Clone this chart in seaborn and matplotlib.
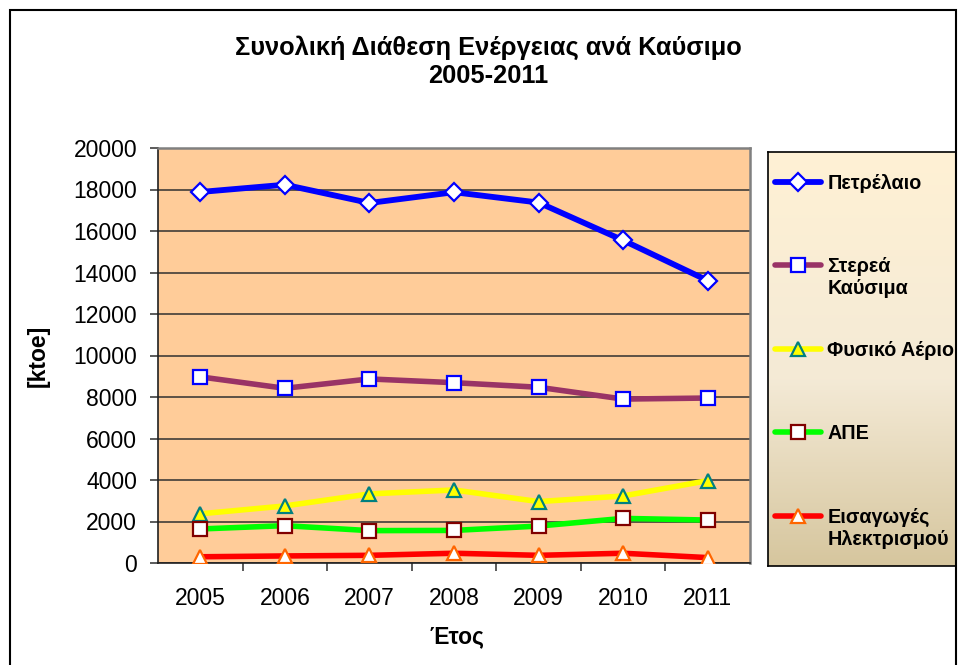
import numpy as np
import pandas as pd
import matplotlib
matplotlib.use("Agg")
import matplotlib.pyplot as plt
import seaborn as sns
from matplotlib.patches import Rectangle
from matplotlib.ticker import FixedLocator

# ---- data ----
years = ["2005", "2006", "2007", "2008", "2009", "2010", "2011"]
oil = [17880, 18230, 17350, 17870, 17370, 15550, 13610]
solid_fuels = [8970, 8420, 8870, 8690, 8470, 7900, 7950]
natural_gas = [2370, 2750, 3330, 3520, 2960, 3230, 3970]
renewables = [1640, 1800, 1560, 1570, 1780, 2150, 2070]
electricity_imports = [300, 340, 370, 470, 370, 470, 260]
series_labels = ["Πετρέλαιο", "Στερεά\nΚαύσιμα", "Φυσικό Αέριο", "ΑΠΕ", "Εισαγωγές\nΗλεκτρισμού"]
y_ticks = [0, 2000, 4000, 6000, 8000, 10000, 12000, 14000, 16000, 18000, 20000]
title = "Συνολική Διάθεση Ενέργειας ανά Καύσιμο\n2005-2011"
x_label = "Έτος"
y_label = "[ktoe]"

sns.set_style("white")
plt.rcParams["font.family"] = ["Liberation Sans", "DejaVu Sans"]
plt.rcParams["text.color"] = "black"
plt.rcParams["axes.labelcolor"] = "black"
plt.rcParams["xtick.color"] = "black"
plt.rcParams["ytick.color"] = "black"

W, H = 958, 665
fig = plt.figure(figsize=(W / 100, H / 100), dpi=100)
fig.patch.set_facecolor("white")

ax = fig.add_axes([158 / W, 1 - 563 / H, (750 - 158) / W, (563 - 148) / H])
ax.set_facecolor("#FFCC99")

values = [oil, solid_fuels, natural_gas, renewables, electricity_imports]
styles = [
    dict(color="#0000FF", marker="D", ms=9, mfc="white", mec="#0000FF", lw=4.2),
    dict(color="#993366", marker="s", ms=9.5, mfc="white", mec="#0000FF", lw=4.0),
    dict(color="#FFFF00", marker="^", ms=10.5, mfc="#FFFF00", mec="#008080", lw=4.0),
    dict(color="#00FF00", marker="s", ms=9.5, mfc="white", mec="#800000", lw=4.0),
    dict(color="#FF0000", marker="^", ms=10.5, mfc="white", mec="#FF6600", lw=4.0),
]
for vals, lab, st in zip(values, series_labels, styles):
    df = pd.DataFrame({"year": years, "value": vals})
    sns.lineplot(data=df, x="year", y="value", ax=ax, color=st["color"],
                 linewidth=st["lw"], marker=st["marker"], markersize=st["ms"],
                 markerfacecolor=st["mfc"], markeredgecolor=st["mec"],
                 markeredgewidth=1.6, label=lab, zorder=3)
if ax.get_legend() is not None:
    ax.get_legend().remove()

ax.set_xlim(-0.5, len(years) - 0.5)
ax.set_ylim(0, 20000)
ax.set_yticks(y_ticks)
ax.set_yticklabels([str(t) for t in y_ticks])
ax.set_xticks(range(len(years)))
ax.set_xticklabels(years)
ax.xaxis.set_minor_locator(FixedLocator([i + 0.5 for i in range(len(years) - 1)]))
ax.tick_params(axis="x", which="major", length=0, pad=17, labelsize=16.5, labelcolor="black")
ax.tick_params(axis="x", which="minor", length=6, width=1.2, color="#404040", direction="out", bottom=True)
ax.tick_params(axis="y", which="major", length=6, width=1.2, pad=9, labelsize=16.5, color="#404040",
               labelcolor="black", direction="out", left=True)

ax.yaxis.grid(True, color="#303030", linewidth=1.1)
ax.xaxis.grid(False)
ax.set_axisbelow(True)
for side in ["left", "bottom"]:
    ax.spines[side].set_color("#202020")
    ax.spines[side].set_linewidth(1.2)
for side in ["top", "right"]:
    ax.spines[side].set_color("#808080")
    ax.spines[side].set_linewidth(1.8)

ax.set_xlabel(x_label, fontsize=16.5, fontweight="bold", va="center", color="black")
ax.xaxis.set_label_coords(0.505, -(637 - 563) / 415)
ax.set_ylabel(y_label, fontsize=16.5, fontweight="bold", va="center", color="black")
ax.yaxis.set_label_coords(-(158 - 38) / 592, 0.5)

fig.text(488 / W, 1 - 35 / H, title, ha="center", va="top", fontsize=18.3,
         fontweight="bold", linespacing=1.22, color="black")

# legend background with gradient
lax = fig.add_axes([768 / W, 1 - 566 / H, (956 - 768) / W, (566 - 152) / H])
top = np.array([255, 241, 212]) / 255
mid = np.array([244, 234, 214]) / 255
bot = np.array([214, 198, 158]) / 255
t = np.linspace(0, 1, 256)[:, None]
grad = np.where(t < 0.55, top + (mid - top) * (t / 0.55), mid + (bot - mid) * ((t - 0.55) / 0.45))
lax.imshow(grad[:, None, :], aspect="auto", extent=[0, 1, 0, 1], origin="upper")
lax.set_xticks([])
lax.set_yticks([])
for sp in lax.spines.values():
    sp.set_color("black")
    sp.set_linewidth(1.2)

handles, labels = ax.get_legend_handles_labels()
labels = [l if "\n" in l else l + "\n" for l in labels]
leg = fig.legend(handles, labels, loc="upper left", bbox_to_anchor=(775 / W, 1 - 174 / H),
                 bbox_transform=fig.transFigure, frameon=False, borderpad=0, borderaxespad=0,
                 handlelength=2.35, handleheight=1.1, handletextpad=0.3, labelspacing=2.15,
                 prop=dict(family=["Liberation Sans", "DejaVu Sans"], weight="bold", size=14.2))
for txt in leg.get_texts():
    txt.set_color("black")
for col in leg._legend_handle_box.get_children():
    for row in col.get_children():
        row.align = "top"

fig.patches.append(Rectangle((10 / W, -0.05), (956 - 10) / W, 1.05 - 10 / H, transform=fig.transFigure,
                             fill=False, edgecolor="black", linewidth=1.5, zorder=0))

fig.savefig("out.png", dpi=100)
